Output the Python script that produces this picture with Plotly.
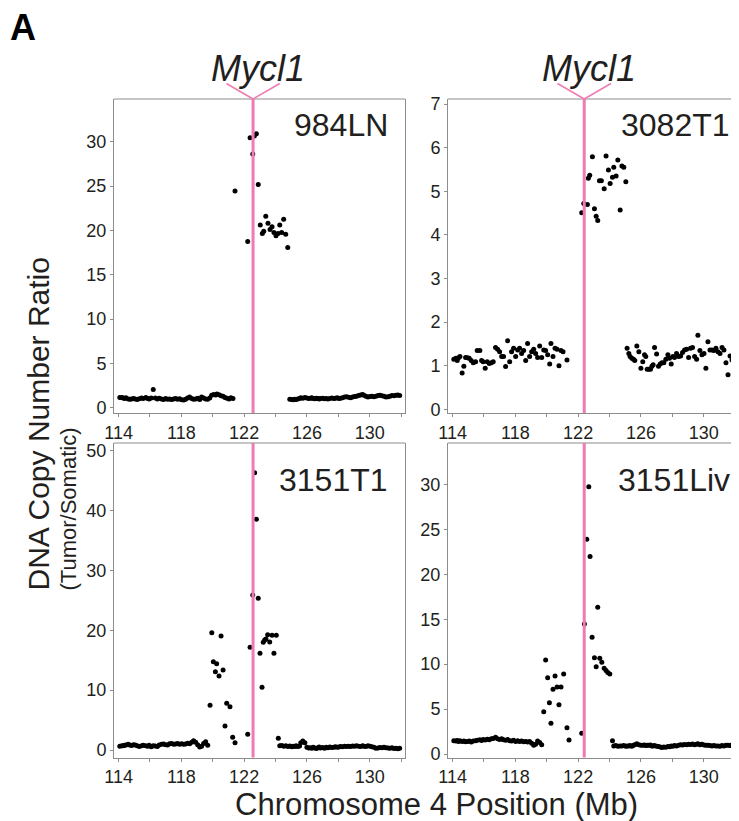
import plotly.graph_objects as go

# ---------------- data ----------------
SAMPLES = ["984LN", "3082T1", "3151T1", "3151Liv"]
MYCL1_POS = [122.57, 122.39, 122.57, 122.39]   # Mycl1 location as drawn in each panel (Mb)

POS_LEFT = [114.08, 114.21, 114.30, 114.38, 114.47, 114.61, 114.72, 114.83, 114.95, 115.06,
            115.19, 115.32, 115.47, 115.57, 115.74, 115.85, 115.95, 116.08, 116.21, 116.34,
            116.47, 116.59, 116.74, 116.87, 117.00, 117.13, 117.25, 117.38, 117.51, 117.64,
            117.76, 117.89, 118.02, 118.15, 118.27, 118.40, 118.53, 118.66, 118.78, 118.91,
            119.04, 119.17, 119.29, 119.42, 119.55, 119.68, 119.81, 119.93, 120.06, 120.19,
            120.27, 120.40, 120.53, 120.66, 120.78, 120.91, 121.04, 121.16, 121.29]

POS_RIGHT = [124.14, 124.27, 124.40, 124.53, 124.66, 124.79, 124.91, 125.04, 125.12, 125.23,
             125.31, 125.42, 125.53, 125.61, 125.74, 125.87, 126.00, 126.12, 126.23, 126.31,
             126.40, 126.51, 126.61, 126.70, 126.78, 126.87, 127.00, 127.12, 127.23, 127.34,
             127.46, 127.59, 127.72, 127.82, 127.93, 128.04, 128.14, 128.27, 128.40, 128.53,
             128.65, 128.78, 128.91, 129.04, 129.16, 129.29, 129.42, 129.55, 129.63, 129.76,
             129.89, 130.02, 130.14, 130.27, 130.40, 130.53, 130.65, 130.78, 130.91, 131.04,
             131.17, 131.29, 131.42, 131.55, 131.68, 131.80, 131.91]

# 984LN
LN984_LEFT = [1.15, 1.16, 1.10, 1.05, 1.12, 1.00, 0.95, 0.98, 1.05, 1.00,
              0.92, 1.02, 1.10, 1.05, 1.15, 1.05, 1.00, 1.10, 2.05, 1.10,
              0.98, 1.08, 1.00, 0.92, 1.05, 0.95, 1.00, 0.92, 0.98, 1.05,
              0.95, 1.02, 0.90, 0.88, 0.95, 1.10, 1.22, 1.05, 0.95, 1.00,
              1.08, 0.92, 1.20, 1.10, 1.00, 0.95, 1.10, 1.40, 1.50, 1.45,
              1.55, 1.48, 1.35, 1.30, 1.15, 1.08, 0.98, 1.12, 1.05]
LN984_MID_X = [121.42, 122.23, 122.38, 122.55, 122.65, 122.78, 122.90, 123.03, 123.16, 123.25,
               123.38, 123.52, 123.65, 123.78, 123.90, 124.03, 124.16, 124.27, 124.39, 124.52,
               124.65, 124.78]
LN984_MID_Y = [24.45, 18.75, 30.43, 28.60, 30.65, 30.88, 25.17, 20.60, 19.65, 19.90,
               21.60, 20.80, 20.10, 20.40, 19.76, 19.40, 19.65, 20.60, 19.76, 21.26,
               19.57, 18.07]
LN984_RIGHT = [None, None, None, None, None, None, 0.95, 0.92, 0.90, 0.95,
               0.92, 0.98, 1.05, 1.12, 1.08, 1.15, 1.10, 1.05, 1.08, 1.12,
               1.05, 1.02, 1.08, 1.05, 1.00, 1.05, 1.08, 1.02, 1.05, 1.00,
               1.05, 1.10, 1.05, 1.08, 1.12, 1.05, 1.08, 1.12, 1.20, 1.25,
               1.18, 1.12, 1.20, 1.28, 1.30, 1.38, 1.45, 1.50, 1.42, 1.30,
               1.22, 1.28, 1.30, 1.25, 1.30, 1.38, 1.42, 1.35, 1.30, 1.22,
               1.25, 1.30, 1.38, 1.35, 1.40, 1.45, 1.38]

# 3082T1
T3082_LEFT = [1.15, 1.17, 1.12, 1.18, 1.21, 0.83, 0.99, 1.19, 1.18, 1.17,
              1.12, 1.07, 1.09, 1.35, 1.35, 1.12, 1.09, 0.94, 1.09, 1.05,
              1.07, 1.09, 1.42, 1.38, 1.32, 1.21, 1.21, 0.98, 1.57, 1.09,
              1.32, 1.40, 1.21, 1.36, 1.40, 1.28, 1.35, 1.12, 1.51, 1.21,
              1.32, 1.38, 1.28, 1.19, 1.45, 1.19, 1.36, 1.35, 1.25, 1.04,
              1.51, 1.21, 1.40, 1.38, 1.00, 1.35, 1.32, None, 1.13]
T3082_MID_X = [122.23, 122.36, 122.59, 122.65, 122.74, 122.91, 123.04, 123.15, 123.25, 123.36,
               123.48, 123.66, 123.78, 123.93, 124.04, 124.19, 124.27, 124.42, 124.53, 124.68,
               124.79, 124.91, 125.04]
T3082_MID_Y = [4.51, 4.72, 4.70, 5.30, 5.37, 5.79, 4.60, 4.43, 4.33, 5.24,
               5.24, 5.06, 5.81, 5.49, 5.18, 5.32, 5.55, 5.35, 5.72, 4.57,
               5.58, 5.55, 5.22]
T3082_RIGHT = [None, None, None, None, None, None, None, None, 1.40, 1.28,
               1.21, 1.17, 1.15, 1.12, 1.45, 1.32, 0.94, 1.09, 1.25, 1.21,
               0.92, 0.92, 0.92, 0.99, 1.02, 1.42, 1.27, 0.99, 1.04, 1.07,
               1.07, 1.15, 1.25, 1.17, 1.04, 1.21, 1.19, 1.28, 1.21, 1.22,
               1.30, 1.36, 1.38, 1.19, 1.40, 1.42, 1.21, 1.15, 1.70, 1.35,
               1.25, 1.28, 0.94, 1.55, 1.36, 1.36, 1.35, 1.40, 1.32, 1.28,
               1.42, 1.36, 1.07, 0.79, 1.22, 1.13, 1.07]

# 3151T1
T3151_LEFT = [0.65, 0.72, 0.70, 0.80, 0.85, 0.95, 0.82, 0.75, 0.90, 0.85,
              0.70, 0.60, 0.72, 0.80, 0.70, 0.65, 0.80, 0.55, 0.72, 0.68,
              0.60, 0.85, 0.95, 1.00, 0.90, 0.85, 1.05, 1.10, 0.95, 1.00,
              1.10, 0.95, 1.05, 0.95, 1.00, 1.15, 1.05, 1.30, 1.55, 1.30,
              0.90, 0.50, 0.65, 1.10, 1.40, 0.80]
T3151_MID_X = [119.83, 119.94, 120.04, 120.17, 120.25, 120.40, 120.53, 120.66, 120.78, 120.89,
               121.10, 121.27, 121.42, 122.23, 122.38, 122.55, 122.67, 122.78, 122.90, 123.01,
               123.14, 123.22, 123.31, 123.39, 123.50, 123.63, 123.78, 123.90, 124.05, 124.18]
T3151_MID_Y = [7.47, 19.60, 14.76, 13.09, 14.40, 12.37, 19.05, 13.37, 4.01, 7.81,
               7.24, 2.12, 1.22, 2.62, 17.17, 25.90, 46.35, 38.56, 25.35, 16.16,
               10.48, 18.00, 18.39, 18.55, 19.27, 18.05, 19.17, 16.16, 19.17, 1.96]
T3151_RIGHT = [None, 0.70, 0.75, 0.65, 0.70, 0.60, 0.68, 0.55, 0.65, 0.60,
               0.72, 0.60, 0.68, 1.20, 1.50, 1.20, 0.45, 0.35, 0.40, 0.30,
               0.45, 0.35, 0.25, 0.40, 0.50, 0.35, 0.42, 0.30, 0.45, 0.38,
               0.50, 0.42, 0.48, 0.55, 0.45, 0.50, 0.60, 0.55, 0.62, 0.58,
               0.65, 0.60, 0.68, 0.62, 0.70, 0.65, 0.60, 0.72, 0.65, 0.60,
               0.70, 0.62, 0.55, 0.48, 0.30, 0.35, 0.42, 0.38, 0.45, 0.40,
               0.35, 0.30, 0.38, 0.25, 0.30, 0.22, 0.28]

# 3151Liv
L3151_LEFT = [1.50, 1.45, 1.52, 1.42, 1.48, 1.40, 1.45, 1.38, 1.42, 1.45,
              1.35, 1.45, 1.50, 1.55, 1.60, 1.52, 1.62, 1.58, 1.65, 1.60,
              1.70, 1.75, 1.88, 1.70, 1.62, 1.72, 1.60, 1.55, 1.62, 1.50,
              1.45, 1.55, 1.42, 1.48, 1.40, 1.45, 1.38, 1.42, 1.35, 1.40,
              1.20, 1.00, 1.10, 1.45, 1.30, 1.05]
L3151_MID_X = [119.81, 119.93, 120.06, 120.17, 120.27, 120.40, 120.53, 120.66, 120.78, 120.91,
               121.08, 121.29, 121.42, 122.23, 122.40, 122.55, 122.68, 122.76, 122.89, 123.04,
               123.15, 123.25, 123.38, 123.51, 123.66, 123.78, 123.89, 124.02, 124.19]
L3151_MID_Y = [4.72, 10.47, 8.50, 5.72, 3.43, 7.21, 8.69, 7.47, 5.50, 7.47,
               8.91, 2.94, 1.58, 2.32, 14.47, 23.88, 29.72, 21.96, 12.99, 10.72,
               9.72, 16.32, 10.66, 10.21, 9.54, 9.29, 9.07, 8.91, 1.50]
L3151_RIGHT = [None, 0.90, 0.95, 0.88, 0.92, 0.90, 0.95, 0.88, 0.92, 0.90,
               0.95, 0.88, 1.00, 1.05, 1.15, 1.05, 1.00, 0.98, 1.02, 0.95,
               1.00, 0.98, 1.02, 0.92, 0.90, 0.95, 0.88, 0.85, 0.80, 0.75,
               0.80, 0.78, 0.85, 0.82, 0.90, 0.88, 0.95, 0.92, 1.00, 1.05,
               1.02, 1.08, 1.05, 1.10, 1.08, 1.12, 1.05, 1.10, 1.15, 1.05,
               1.10, 1.02, 0.98, 1.00, 0.95, 0.92, 0.95, 0.90, 0.92, 0.88,
               0.95, 0.90, 0.98, 1.00, 0.95, 1.02, 0.98]

PANEL_DATA = [
    (LN984_LEFT, LN984_MID_X, LN984_MID_Y, LN984_RIGHT),
    (T3082_LEFT, T3082_MID_X, T3082_MID_Y, T3082_RIGHT),
    (T3151_LEFT, T3151_MID_X, T3151_MID_Y, T3151_RIGHT),
    (L3151_LEFT, L3151_MID_X, L3151_MID_Y, L3151_RIGHT),
]

X_TICKS = [114, 116, 118, 120, 122, 124, 126, 128, 130, 132]
X_TICK_TEXT = ["114", "", "118", "", "122", "", "126", "", "130", ""]
Y_TICKS = [
    [0, 5, 10, 15, 20, 25, 30],
    [0, 1, 2, 3, 4, 5, 6, 7],
    [0, 10, 20, 30, 40, 50],
    [0, 5, 10, 15, 20, 25, 30],
]
Y_RANGES = [[-0.59, 34.81], [-0.085, 7.117], [-1.25, 51.31], [-0.37, 34.58]]
X_RANGE = [113.71, 132.25]

# ---------------- layout helpers ----------------
# the page body has an 8px margin, so the figure is drawn 8px in from the corner
OFF = 8
W, H = 739 - OFF, 821 - OFF
FONT = "Liberation Sans, Arial, Helvetica, sans-serif"
PINK = "#EF7BB3"
TXT = "#231f20"
AXC = "#8c8c8c"


def px_x(p):
    return (p - OFF) / W


def px_y(p):
    return 1 - (p - OFF) / H


X_DOMAINS = [[px_x(114), px_x(405)], [px_x(448), 1.0]]
Y_DOMAINS = [[px_y(413), px_y(99)], [px_y(757.5), px_y(443)]]

fig = go.Figure()
layout = dict(
    template="none",
    width=W, height=H, autosize=False,
    margin=dict(l=0, r=0, t=0, b=0, pad=0, autoexpand=False),
    paper_bgcolor="white", plot_bgcolor="white",
    showlegend=False, hovermode=False,
    font=dict(family=FONT, color=TXT),
)

shapes = []
annotations = []

for i, name in enumerate(SAMPLES):
    row, col = divmod(i, 2)
    n = i + 1
    xa = "xaxis" if n == 1 else f"xaxis{n}"
    ya = "yaxis" if n == 1 else f"yaxis{n}"
    xr = "x" if n == 1 else f"x{n}"
    yr = "y" if n == 1 else f"y{n}"

    left, mid_x, mid_y, right = PANEL_DATA[i]
    xs = []
    ys = []
    for xv, yv in zip(POS_LEFT, left):
        if yv is not None:
            xs.append(xv)
            ys.append(yv)
    xs += mid_x
    ys += mid_y
    for xv, yv in zip(POS_RIGHT, right):
        if yv is not None:
            xs.append(xv)
            ys.append(yv)

    fig.add_trace(go.Scatter(
        x=xs, y=ys, mode="markers", xaxis=xr, yaxis=yr,
        marker=dict(size=5, color="black", line=dict(width=0)),
        cliponaxis=True,
    ))

    layout[xa] = dict(
        domain=X_DOMAINS[col], anchor=yr, range=X_RANGE, automargin=False,
        showline=True, linecolor=AXC, linewidth=1, mirror=False,
        ticks="outside", ticklen=3, tickcolor=AXC, tickwidth=1,
        tickvals=X_TICKS, ticktext=X_TICK_TEXT,
        tickfont=dict(size=18, family=FONT, color=TXT),
        showgrid=False, zeroline=False, fixedrange=True,
    )
    layout[ya] = dict(
        domain=Y_DOMAINS[row], anchor=xr, range=Y_RANGES[i], automargin=False,
        showline=True, linecolor=AXC, linewidth=1, mirror=(col == 0),
        ticks="outside", ticklen=3, tickcolor=AXC, tickwidth=1,
        tickvals=Y_TICKS[i],
        tickfont=dict(size=18, family=FONT, color=TXT),
        showgrid=False, zeroline=False, fixedrange=True,
    )

    # top border line for each panel
    shapes.append(dict(type="line", xref=f"{xr} domain", yref=f"{yr} domain",
                       x0=0, x1=1, y0=1, y1=1, line=dict(color=AXC, width=1)))

    m = MYCL1_POS[i]
    shapes.append(dict(type="line", xref=xr, yref=f"{yr} domain",
                       x0=m, x1=m, y0=0, y1=1, layer="above",
                       line=dict(color=PINK, width=3)))

    label_right = 390 if col == 0 else 732
    label_y = 125 if row == 0 else 480
    annotations.append(dict(
        text=name, xref="paper", yref="paper",
        x=px_x(label_right), y=px_y(label_y), xanchor="right", yanchor="middle",
        showarrow=False, font=dict(size=32, family=FONT, color=TXT),
    ))

    if row == 0:
        top = Y_DOMAINS[0][1]
        for dx in (-1.7, 1.7):
            shapes.append(dict(type="line", xref=xr, yref="paper",
                               x0=m, y0=top, x1=m + dx, y1=px_y(83.5),
                               line=dict(color=PINK, width=1.5)))
        annotations.append(dict(
            text="<i>Mycl1</i>", xref=xr, yref="paper", x=m, xshift=5,
            y=px_y(68), xanchor="center", yanchor="middle", showarrow=False,
            font=dict(size=36, family=FONT, color=TXT),
        ))

annotations += [
    dict(text="<b>A</b>", xref="paper", yref="paper", x=px_x(23), y=px_y(27),
         xanchor="center", yanchor="middle", showarrow=False,
         font=dict(size=36, family=FONT, color="black")),
    dict(text="DNA Copy Number Ratio", xref="paper", yref="paper",
         x=px_x(38), y=px_y(593), xanchor="center", yanchor="bottom", textangle=-90,
         showarrow=False, font=dict(size=30, family=FONT, color=TXT)),
    dict(text="(Tumor/Somatic)", xref="paper", yref="paper",
         x=px_x(68), y=px_y(593), xanchor="center", yanchor="bottom", textangle=-90,
         showarrow=False, font=dict(size=22, family=FONT, color=TXT)),
    dict(text="Chromosome 4 Position (Mb)", xref="paper", yref="paper",
         x=px_x(436), y=px_y(804), xanchor="center", yanchor="middle",
         showarrow=False, font=dict(size=31, family=FONT, color=TXT)),
]

layout["shapes"] = shapes
layout["annotations"] = annotations
fig.update_layout(**layout)
fig.write_html("out.html")
